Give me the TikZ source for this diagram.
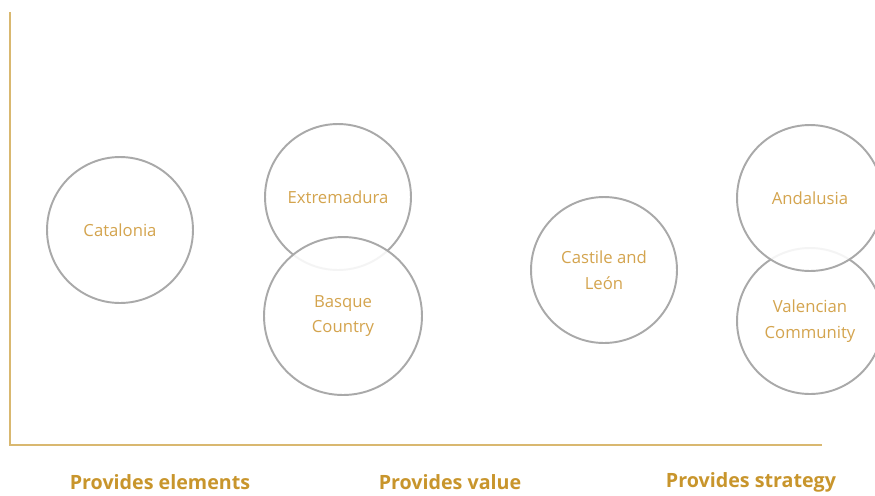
\documentclass[tikz,border=0pt]{standalone}
\usepackage{fontspec}
\setmainfont{Open Sans}
\usepackage{tikz}
\definecolor{AxisGold}{HTML}{D9B870}
\definecolor{TextGold}{HTML}{D4A44E}
\definecolor{LabelGold}{HTML}{C8952C}
\definecolor{RingGray}{HTML}{A9A9A9}

\begin{document}
\begin{tikzpicture}[x=0.02cm,y=-0.02cm,
    region/.style={circle, draw=RingGray, line width=1.1pt, fill=white, fill opacity=0.88, text opacity=1,
        minimum size=2.92cm, inner sep=0pt, align=center, text=TextGold, font=\fontsize{9.5}{14.7}\selectfont},
    axislabel/.style={text=LabelGold, font=\fontsize{11.2}{13}\selectfont\bfseries}]
                \useasboundingbox (0,0) rectangle (875,495);
                \coordinate (top) at (10,12);
                \coordinate (origin) at (10,445);
                \coordinate (right) at (822,445);
                \draw[AxisGold, line width=0.9pt] (top) -- (origin) -- (right);

                \node[region] (catalonia) at (120,230) {Catalonia};
                \node[region] (extremadura) at (338,197) {Extremadura};
                \node[region, minimum size=3.16cm] (basque) at (343,316) {Basque\\Country};
                \node[region] (castile) at (604,270) {Castile and\\León};
                \node[region] (valencia) at (810,321) {Valencian\\Community};
                \node[region] (andalusia) at (810,198) {Andalusia};

                \node[axislabel] (elements) at (160,482) {Provides elements};
                \node[axislabel] (value) at (450,482) {Provides value};
                \node[axislabel] (strategy) at (751,482) {Provides strategy};
            \end{tikzpicture}
\end{document}
